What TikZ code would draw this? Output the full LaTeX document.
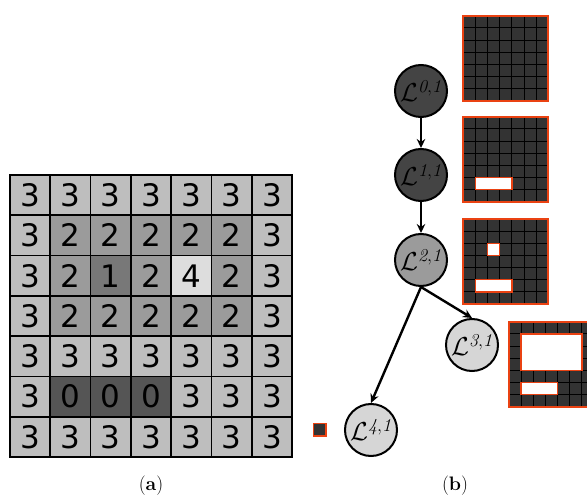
\documentclass[tikz,border=0pt]{standalone}
\usepackage{fix-cm}
\usepackage{fontspec}
\newfontfamily\digitfont{DejaVu Sans}
\usetikzlibrary{arrows.meta}
\definecolor{v0}{RGB}{85,85,85}
\definecolor{v1}{RGB}{120,120,120}
\definecolor{v2}{RGB}{155,155,155}
\definecolor{v3}{RGB}{190,190,190}
\definecolor{v4}{RGB}{221,221,221}
\definecolor{ndark}{RGB}{68,68,68}
\definecolor{nmid}{RGB}{155,155,155}
\definecolor{nlight}{RGB}{214,214,214}
\definecolor{orng}{RGB}{234,66,18}
\definecolor{sgfill}{RGB}{51,51,51}
\tikzset{
  cellbox/.style={draw=black, line width=1.8pt, minimum size=40.29pt, inner sep=0pt, outer sep=0pt,
    font=\digitfont\fontsize{31}{31}\selectfont},
  treenode/.style={circle, draw=black, line width=2pt, minimum size=52pt, inner sep=0pt,
    font=\fontsize{26}{26}\selectfont},
  arr/.style={line width=2.4pt, -{Stealth[length=9pt,width=8.5pt,inset=3pt]}},
  sgline/.style={black, line width=0.9pt},
  hole/.style={fill=white, draw=orng, line width=1.5pt},
  sgborder/.style={draw=orng, line width=1.7pt},
  captext/.style={inner sep=0pt, font=\fontsize{19.5}{19.5}\selectfont}
}
\newcommand{\smallgrid}[2]{%
  \fill[sgfill] (#1,#2) rectangle ++(85,85);
  \foreach \i in {1,...,6} {
    \draw[sgline] ({#1+\i*85/7},#2) -- ++(0,85);
    \draw[sgline] (#1,{#2+\i*85/7}) -- ++(85,0);
  }
}
\newcommand{\sgc}{12.143}
\begin{document}
\begin{tikzpicture}[x=1pt,y=-1pt]
\useasboundingbox (0,0) rectangle (587,497);
% (a) grid
\foreach \row [count=\r from 0] in {{3,3,3,3,3,3,3},{3,2,2,2,2,2,3},{3,2,1,2,4,2,3},{3,2,2,2,2,2,3},{3,3,3,3,3,3,3},{3,0,0,0,3,3,3},{3,3,3,3,3,3,3}} {
  \foreach \v [count=\c from 0] in \row {
    \node[cellbox, fill=v\v] (c-\r-\c) at ({10+40.29*(\c+0.5)},{175+40.29*(\r+0.5)}) {\v};
  }
}
% tree
\node[treenode, fill=ndark] (L0) at (421,91) {$\mathcal{L}^{\mathit{0,1}}$};
\node[treenode, fill=ndark] (L1) at (421,175) {$\mathcal{L}^{\mathit{1,1}}$};
\node[treenode, fill=nmid] (L2) at (421,260) {$\mathcal{L}^{\mathit{2,1}}$};
\node[treenode, fill=nlight] (L3) at (472,345) {$\mathcal{L}^{\mathit{3,1}}$};
\node[treenode, fill=nlight] (L4) at (371,430) {$\mathcal{L}^{\mathit{4,1}}$};
\draw[arr] (L0) -- (L1);
\draw[arr] (L1) -- (L2);
\draw[arr] (L2.south) -- (L3.north);
\draw[arr] (L2.south) -- (L4.north);
% small grids
% grid 1
\smallgrid{463.3}{15.7}
\draw[sgborder] (463.3,15.7) rectangle (548.3,100.7);
% grid 2
\smallgrid{463.3}{116.7}
\draw[hole] ({463.3+\sgc},{116.7+5*\sgc}) rectangle ({463.3+4*\sgc},{116.7+6*\sgc});
\draw[sgborder] (463.3,116.7) rectangle (548.3,201.7);
% grid 3
\smallgrid{463.3}{219}
\draw[hole] ({463.3+2*\sgc},{219+2*\sgc}) rectangle ({463.3+3*\sgc},{219+3*\sgc});
\draw[hole] ({463.3+\sgc},{219+5*\sgc}) rectangle ({463.3+4*\sgc},{219+6*\sgc});
\draw[sgborder] (463.3,219) rectangle (548.3,304);
% grid 4
\smallgrid{509}{321.7}
\draw[hole] ({509+\sgc},{321.7+\sgc}) rectangle ({509+6*\sgc},{321.7+4*\sgc});
\draw[hole] ({509+\sgc},{321.7+5*\sgc}) rectangle ({509+4*\sgc},{321.7+6*\sgc});
\draw[sgborder] (509,321.7) rectangle (594,406.7);
% single cell
\draw[sgborder, fill=sgfill] (313.6,423.6) rectangle (325.8,435.8);
% captions
\node[captext] (capa) at (151,486) {(\textbf{a})};
\node[captext] (capb) at (455,486) {(\textbf{b})};
\end{tikzpicture}
\end{document}
